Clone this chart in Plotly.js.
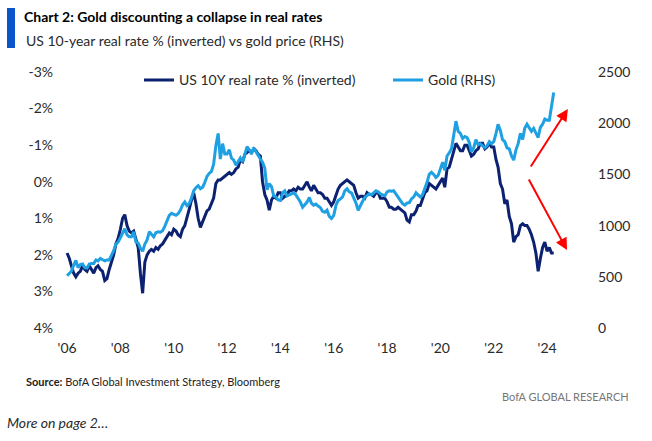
<!DOCTYPE html>
<html>
<head>
<meta charset="utf-8">
<script src="https://cdn.plot.ly/plotly-3.0.1.min.js"></script>
<style>
html,body{margin:0;padding:0;background:#fff;}
#chart{width:652px;height:441px;}
</style>
</head>
<body>
<div id="chart"></div>
<script>
// Monthly observations, Jan 2006 .. Apr 2024
const startYear = 2006;
const startMonth = 1;

// US 10Y real rate % (plotted on an inverted axis)
const realRate = [
  1.95, 2.1, 2.3, 2.5, 2.6, 2.5, 2.45, 2.3, 2.4, 2.45, 2.3, 2.4,
  2.5, 2.35, 2.3, 2.4, 2.45, 2.7, 2.65, 2.4, 2.2, 2.0, 1.7, 1.55,
  1.3, 1.0, 0.9, 1.2, 1.35, 1.4, 1.35, 1.6, 1.8, 2.5, 3.05, 2.2,
  2.0, 1.9, 1.85, 1.9, 1.8, 1.85, 1.75, 1.7, 1.6, 1.5, 1.4, 1.45,
  1.3, 1.35, 1.45, 1.5, 1.3, 1.2, 1.0, 0.75, 0.5, 0.3, 0.6, 1.0,
  1.25, 1.1, 0.95, 0.8, 0.75, 0.6, 0.45, 0.05, -0.05, -0.05, -0.1, -0.15,
  -0.2, -0.25, -0.2, -0.25, -0.35, -0.4, -0.6, -0.55, -0.75, -0.8, -0.85, -0.8,
  -0.9, -0.85, -0.75, -0.7, 0.0, 0.35, 0.5, 0.78, 0.5, 0.4, 0.45, 0.3,
  0.3, 0.45, 0.4, 0.35, 0.25, 0.25, 0.2, 0.25, 0.15, 0.2, 0.2, 0.1,
  0.0, 0.15, 0.25, 0.1, 0.2, 0.3, 0.3, 0.35, 0.45, 0.45, 0.55, 0.65,
  0.55, 0.35, 0.2, 0.1, 0.05, 0.0, -0.05, 0.0, 0.05, 0.1, 0.3, 0.45,
  0.4, 0.4, 0.45, 0.3, 0.35, 0.35, 0.4, 0.3, 0.3, 0.45, 0.45, 0.45,
  0.55, 0.7, 0.7, 0.75, 0.75, 0.7, 0.75, 0.8, 0.85, 1.05, 1.1, 0.9,
  0.9, 0.8, 0.65, 0.65, 0.5, 0.3, 0.25, 0.05, 0.1, 0.15, 0.2, 0.1,
  0.0, -0.1, 0.15, -0.35, -0.4, -0.6, -0.85, -1.05, -0.95, -0.85, -0.85, -1.0,
  -1.0, -0.85, -0.7, -0.75, -0.85, -0.9, -1.05, -1.05, -0.9, -0.95, -1.05, -0.95,
  -0.95, -0.6, -0.4, 0.05, 0.2, 0.6, 0.5, 0.95, 1.15, 1.65, 1.5, 1.45,
  1.2, 1.15, 1.2, 1.2, 1.3, 1.45, 1.65, 1.95, 2.45, 2.1, 1.8, 1.65,
  1.9, 1.8, 1.95, 1.95
];

// Gold price, USD/oz (RHS)
const gold = [
  510, 540, 555, 610, 660, 590, 620, 625, 590, 585, 625, 630,
  630, 665, 655, 680, 665, 655, 665, 665, 710, 755, 820, 840,
  880, 920, 970, 910, 890, 890, 940, 840, 830, 780, 750, 820,
  860, 940, 920, 890, 930, 940, 935, 950, 995, 1040, 1100, 1120,
  1110, 1100, 1115, 1150, 1200, 1230, 1195, 1215, 1270, 1340, 1370, 1390,
  1360, 1375, 1420, 1480, 1510, 1530, 1600, 1780, 1900, 1650, 1800, 1700,
  1700, 1740, 1660, 1640, 1590, 1620, 1660, 1620, 1700, 1770, 1740, 1700,
  1760, 1720, 1680, 1650, 1620, 1560, 1350, 1410, 1380, 1290, 1280, 1250,
  1245, 1320, 1340, 1290, 1300, 1310, 1320, 1300, 1270, 1230, 1180, 1200,
  1230, 1275, 1220, 1200, 1210, 1190, 1177, 1140, 1130, 1150, 1090, 1070,
  1100, 1200, 1245, 1260, 1280, 1340, 1360, 1330, 1320, 1270, 1220, 1150,
  1200, 1240, 1275, 1290, 1310, 1300, 1320, 1340, 1330, 1310, 1300, 1290,
  1330, 1340, 1335, 1340, 1310, 1280, 1240, 1215, 1200, 1220, 1225, 1260,
  1280, 1320, 1300, 1280, 1300, 1360, 1420, 1500, 1520, 1500, 1470, 1490,
  1560, 1620, 1540, 1680, 1710, 1750, 1880, 2020, 1920, 1900, 1850, 1870,
  1860, 1810, 1720, 1760, 1840, 1790, 1800, 1780, 1760, 1780, 1820, 1800,
  1820, 1900, 1990, 1930, 1840, 1820, 1760, 1750, 1680, 1640, 1740, 1800,
  1900, 1840, 1950, 1990, 1960, 1920, 1950, 1910, 1860, 1960, 1990, 2040,
  2030, 2030, 2150, 2300
];

const xTickVals = ['2006-01-01','2008-01-01','2010-01-01','2012-01-01','2014-01-01','2016-01-01','2018-01-01','2020-01-01','2022-01-01','2024-01-01'];
const xTickText = ["'06","'08","'10","'12","'14","'16","'18","'20","'22","'24"];
const yLeftVals = [-3,-2,-1,0,1,2,3,4];
const yLeftText = ['-3%','-2%','-1%','0%','1%','2%','3%','4%'];
const yRightVals = [0,500,1000,1500,2000,2500];
const yRightText = ['0','500','1000','1500','2000','2500'];
const seriesNames = ['US 10Y real rate % (inverted)', 'Gold (RHS)'];

function monthDates(n){
  const out = [];
  for (let i = 0; i < n; i++){
    const m0 = (startMonth - 1) + i;
    const y = startYear + Math.floor(m0 / 12);
    const m = (m0 % 12) + 1;
    out.push(y + '-' + String(m).padStart(2,'0') + '-01');
  }
  return out;
}
const dates = monthDates(realRate.length);

const NAVY = '#0c2270';
const LIGHT = '#1ea0e2';
const TXT = '#2a2a2a';
const NARROW = '"Liberation Sans Narrow", "Arial Narrow", Lato, sans-serif';
const BODY = 'Lato, "Open Sans", sans-serif';

const traces = [
  {x: dates, y: realRate, name: seriesNames[0], type: 'scatter', mode: 'lines',
   line: {color: NAVY, width: 3}, yaxis: 'y', legend: 'legend'},
  {x: dates, y: gold, name: seriesNames[1], type: 'scatter', mode: 'lines',
   line: {color: LIGHT, width: 3}, yaxis: 'y2', legend: 'legend2'}
];

const legendBase = {orientation: 'h', y: 1.03, xanchor: 'left', yanchor: 'top',
  font: {family: BODY, size: 14, color: TXT}, bgcolor: 'rgba(0,0,0,0)'};

const layout = {
  width: 652, height: 441,
  margin: {l: 60, r: 62, t: 72, b: 113},
  paper_bgcolor: '#ffffff', plot_bgcolor: '#ffffff',
  showlegend: true,
  legend: Object.assign({}, legendBase, {x: (139-60)/530}),
  legend2: Object.assign({}, legendBase, {x: (388-60)/530}),
  xaxis: {type: 'date', range: ['2005-09-26', '2025-08-11'], showgrid: false, zeroline: false,
          showline: false, ticks: '', tickmode: 'array', tickvals: xTickVals, ticktext: xTickText,
          ticklabelstandoff: 10,
          tickfont: {family: BODY, size: 14, color: TXT}},
  yaxis: {range: [4, -3], showgrid: false, zeroline: false, showline: false, ticks: '',
          tickmode: 'array', tickvals: yLeftVals, ticktext: yLeftText, ticklabelstandoff: 6,
          tickfont: {family: BODY, size: 14, color: TXT}},
  yaxis2: {range: [0, 2500], overlaying: 'y', side: 'right', showgrid: false, zeroline: false,
           showline: false, ticks: '', tickmode: 'array', tickvals: yRightVals, ticktext: yRightText,
           ticklabelstandoff: 7,
           tickfont: {family: BODY, size: 14, color: TXT}},
  title: {text: '<b>Chart 2: Gold discounting a collapse in real rates</b>',
          font: {family: NARROW, size: 14, color: '#000'},
          x: 24/652, xanchor: 'left', xref: 'container', y: 1 - 17/441, yanchor: 'middle', yref: 'container'},
  shapes: [
    {type: 'rect', xref: 'paper', yref: 'paper', x0: (7-60)/530, x1: (15-60)/530,
     y0: (328-48)/256, y1: (328-8)/256, fillcolor: '#0a55c9', line: {width: 0}}
  ],
  annotations: [
    {text: 'US 10-year real rate % (inverted) vs gold price (RHS)', xref: 'paper', yref: 'paper',
     x: (24-60)/530, y: (328-40)/256, xanchor: 'left', yanchor: 'middle', showarrow: false,
     font: {family: NARROW, size: 14, color: TXT}},
    {text: '<b>Source:</b> BofA Global Investment Strategy, Bloomberg', xref: 'paper', yref: 'paper',
     x: (24-60)/530, y: (328-381)/256, xanchor: 'left', yanchor: 'middle', showarrow: false,
     font: {family: NARROW, size: 11, color: '#222'}},
    {text: 'BofA GLOBAL RESEARCH', xref: 'paper', yref: 'paper',
     x: (631-60)/530, y: (328-396)/256, xanchor: 'right', yanchor: 'middle', showarrow: false,
     font: {family: NARROW, size: 11, color: '#777'}},
    {text: '<i>More on page 2…</i>', xref: 'paper', yref: 'paper',
     x: (5-60)/530, y: (328-422)/256, xanchor: 'left', yanchor: 'middle', showarrow: false,
     font: {family: BODY, size: 14, color: TXT}},
    {x: '2024-10-12', y: -1.99, ax: '2023-05-10', ay: -0.375, xref: 'x', yref: 'y', axref: 'x', ayref: 'y',
     showarrow: true, arrowhead: 2, arrowsize: 1.2, arrowwidth: 2, arrowcolor: '#ff0000', text: ''},
    {x: '2024-09-30', y: 1.87, ax: '2023-04-15', ay: -0.10, xref: 'x', yref: 'y', axref: 'x', ayref: 'y',
     showarrow: true, arrowhead: 2, arrowsize: 1.2, arrowwidth: 2, arrowcolor: '#ff0000', text: ''}
  ],
  hovermode: false
};

Plotly.newPlot('chart', traces, layout, {displayModeBar: false, staticPlot: true});
</script>
</body>
</html>
